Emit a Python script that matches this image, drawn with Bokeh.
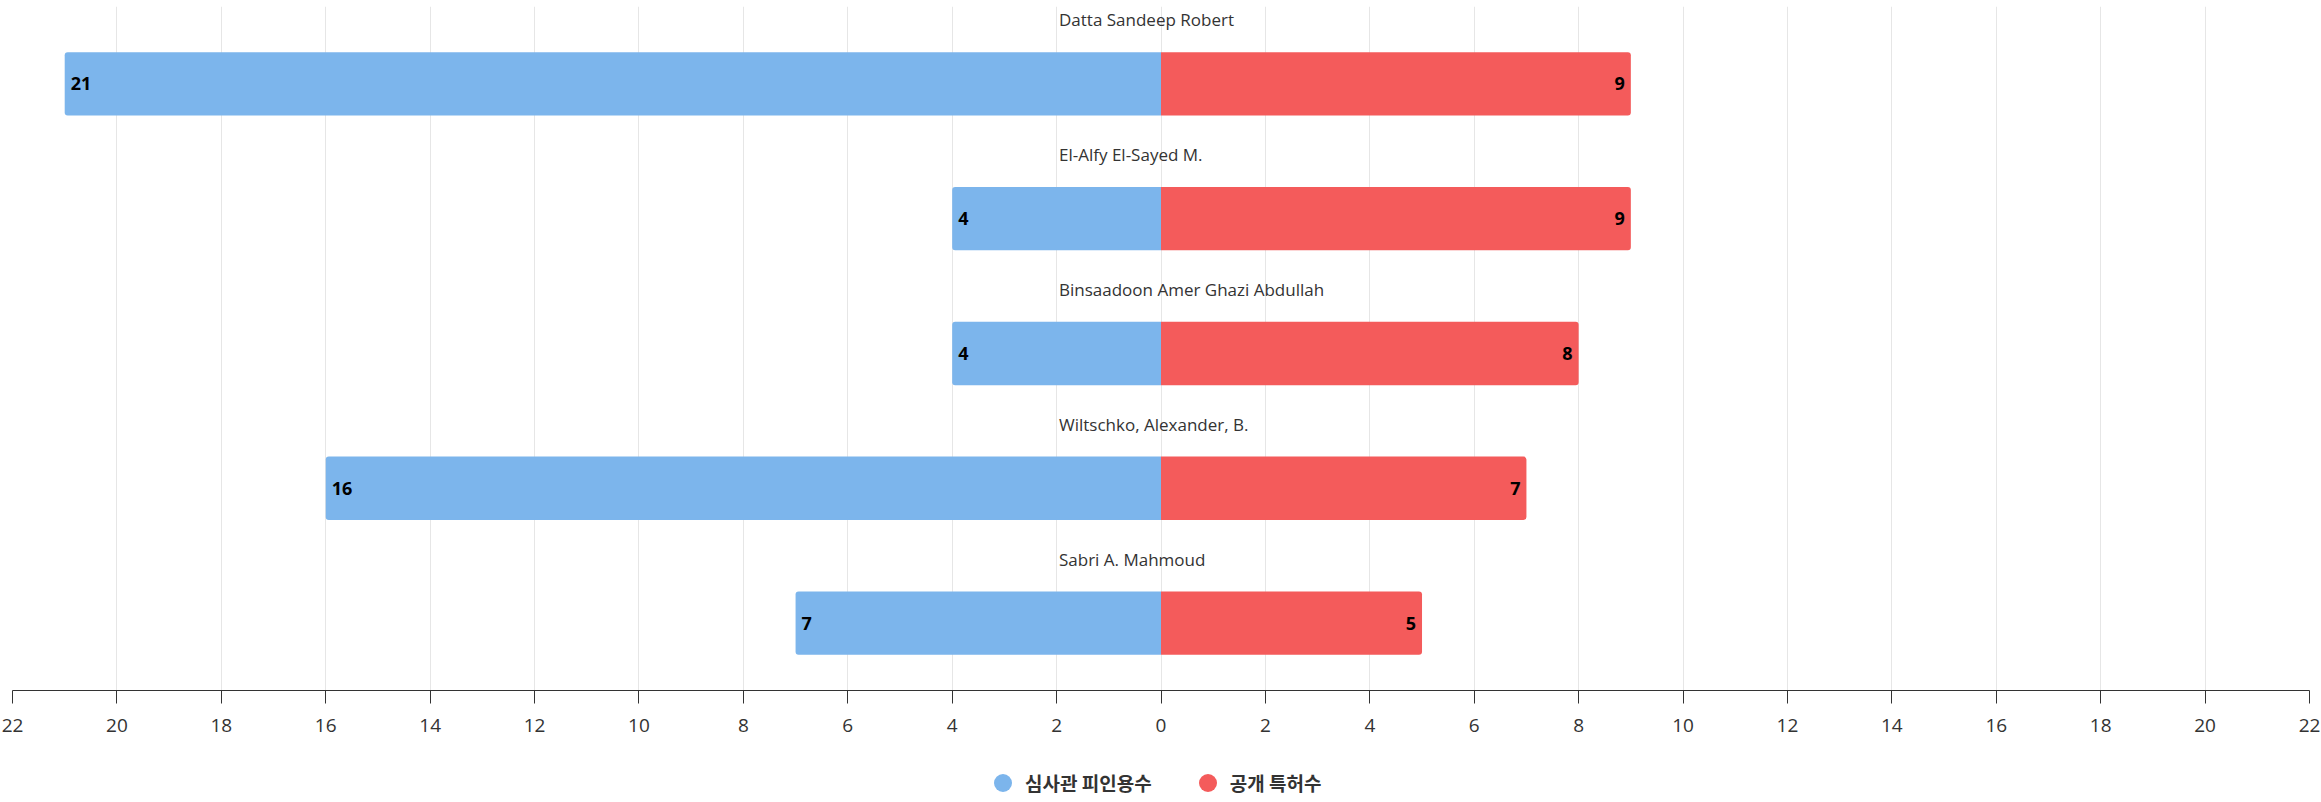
from bokeh.plotting import figure
from bokeh.layouts import column
from bokeh.models import (Range1d, FixedTicker, CustomJSTickFormatter,
                          ColumnDataSource, Legend, LegendItem)
from bokeh.core.properties import value
from bokeh.embed import file_html
from bokeh.resources import INLINE

# ---- data ----
inventors = ["Datta Sandeep Robert", "El-Alfy El-Sayed M.", "Binsaadoon Amer Ghazi Abdullah",
             "Wiltschko, Alexander, B.", "Sabri A. Mahmoud"]
examiner_citations = [21, 4, 4, 16, 7]      # 심사관 피인용수 (left, blue)
published_patents = [9, 9, 8, 7, 5]         # 공개 특허수 (right, red)
series_names = ["심사관 피인용수", "공개 특허수"]
tick_values = [-22, -20, -18, -16, -14, -12, -10, -8, -6, -4, -2, 0,
               2, 4, 6, 8, 10, 12, 14, 16, 18, 20, 22]

BLUE = "#7cb5ec"
RED = "#f45b5b"
TXT = "#333333"

n = len(inventors)
src = ColumnDataSource(dict(
    name=inventors,
    row=[n - 1 - i for i in range(n)],          # first inventor on top
    neg=[-v for v in examiner_citations],
    pos=published_patents,
    neg_lbl=[str(v) for v in examiner_citations],
    pos_lbl=[str(v) for v in published_patents],
    zero=[0] * n,
))

TOP_PAD = 0.074   # extra room above the first category (in category units)

p = figure(width=2321, height=745,
           y_range=Range1d(-0.5, n - 0.5 + TOP_PAD),
           x_range=Range1d(tick_values[0], tick_values[-1]),
           output_backend="svg", toolbar_location=None,
           y_axis_location=None,
           min_border_left=12, min_border_right=12, min_border_top=6, min_border_bottom=55)

p.outline_line_color = None
p.background_fill_color = "white"
p.ygrid.visible = False
p.xgrid.grid_line_color = "#e6e6e6"
p.xgrid.grid_line_width = 1

p.hbar(y="row", left="neg", right="zero", height=0.47, source=src,
       fill_color=BLUE, line_color=None, border_radius=(3, 0, 0, 3))
p.hbar(y="row", left="zero", right="pos", height=0.47, source=src,
       fill_color=RED, line_color=None, border_radius=(0, 3, 3, 0))

p.text(x="neg", y="row", text="neg_lbl", source=src, x_offset=6,
       text_align="left", text_baseline="middle",
       text_font=value("Open Sans"), text_font_size="18px", text_font_style="bold",
       text_color="black")
p.text(x="pos", y="row", text="pos_lbl", source=src, x_offset=-6,
       text_align="right", text_baseline="middle",
       text_font=value("Open Sans"), text_font_size="18px", text_font_style="bold",
       text_color="black")

# category labels above each bar pair
p.text(x="zero", y="row", text="name", source=src, x_offset=-102, y_offset=-64,
       text_align="left", text_baseline="middle",
       text_font=value("Open Sans"), text_font_size="17px", text_color=TXT)

ax = p.xaxis[0]
ax.ticker = FixedTicker(ticks=tick_values)
ax.formatter = CustomJSTickFormatter(code="return Math.abs(tick).toString();")
ax.major_tick_out = 13
ax.major_tick_in = 0
ax.minor_tick_out = 0
ax.minor_tick_in = 0
ax.axis_line_color = TXT
ax.major_tick_line_color = TXT
ax.major_label_text_font = "Open Sans"
ax.major_label_text_font_size = "19px"
ax.major_label_text_color = TXT
ax.major_label_standoff = 15

# ---- legend strip below the chart ----
p2 = figure(width=2321, height=57, x_range=Range1d(0, 1), y_range=Range1d(0, 1),
            output_backend="svg", toolbar_location=None,
            x_axis_location=None, y_axis_location=None,
            min_border_left=0, min_border_right=0, min_border_top=0, min_border_bottom=0)
p2.outline_line_color = None
p2.xgrid.visible = False
p2.ygrid.visible = False

nan = float("nan")
r1 = p2.scatter(x=[nan], y=[nan], marker="circle", size=18, fill_color=BLUE, line_color=None)
r2 = p2.scatter(x=[nan], y=[nan], marker="circle", size=18, fill_color=RED, line_color=None)
legend = Legend(items=[LegendItem(label=series_names[0], renderers=[r1]),
                       LegendItem(label=series_names[1], renderers=[r2])],
                orientation="horizontal", location=(968, -3),
                glyph_width=45, glyph_height=45, label_standoff=-2, spacing=33,
                label_text_font="Noto Sans CJK KR", label_text_font_style="bold",
                label_text_font_size="19px", label_text_color=TXT,
                border_line_color=None, background_fill_alpha=0,
                margin=0, padding=0)
p2.add_layout(legend, "center")

open("out.html", "w").write(file_html(column(p, p2, spacing=0), INLINE))
